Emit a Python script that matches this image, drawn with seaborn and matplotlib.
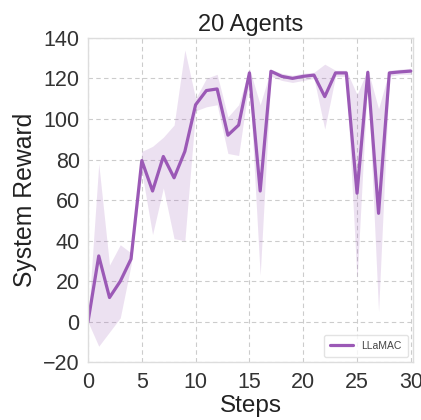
import matplotlib
matplotlib.use("Agg")
import matplotlib.pyplot as plt
import seaborn as sns
import pandas as pd

steps = list(range(31))
reward = [0, 32.5, 12, 20, 31, 79.5, 64.5, 81.5, 71, 84, 107, 114, 114.8, 92, 97,
          122.7, 64.5, 123.5, 121, 120, 121, 121.6, 111, 122.7, 122.7, 63.4, 123,
          53.5, 122.7, 123.2, 123.6]
lower = [0, -12, -5, 2, 28, 74, 43, 66, 41, 40, 104, 106, 107, 83, 82,
         119, 23, 121, 119, 118, 119, 120, 95, 121, 121, 21, 121,
         5, 121, 122, 122]
upper = [0, 78, 28, 38, 34, 84, 86.5, 91, 97, 134, 110, 120, 122, 101, 107,
         125, 107, 124.5, 122.5, 121.5, 122.5, 123, 127, 124, 124, 112, 124.5,
         105, 124, 124.5, 125]
series = "LLaMAC"

df = pd.DataFrame({"Steps": steps, "System Reward": reward, "Method": series})

sns.set_theme(style="whitegrid")
plt.rcParams['font.family'] = ['Liberation Sans', 'DejaVu Sans']

color = "#9B59B6"
fig = plt.figure(figsize=(4.21, 4.20), dpi=100)
ax = fig.add_axes([0.209, 0.137, 0.772, 0.773])

ax.fill_between(steps, lower, upper, color=color, alpha=0.18, linewidth=0)
sns.lineplot(data=df, x="Steps", y="System Reward", hue="Method",
             palette=[color], linewidth=2.3, ax=ax)

ax.set_xlim(0, 30.2)
ax.set_ylim(-20, 140)
ax.set_xticks([0, 5, 10, 15, 20, 25, 30])
ax.set_yticks(list(range(-20, 141, 20)))
ax.tick_params(axis="both", labelsize=15.5, colors="#333333", length=0)
ax.tick_params(axis="y", pad=6)
ax.tick_params(axis="x", pad=7)
ax.set_xlabel("Steps", fontsize=17.5, color="#222222", labelpad=1)
ax.set_ylabel("System Reward", fontsize=17.8, color="#222222", labelpad=4)
ax.set_title("20 Agents", fontsize=17, color="#222222", pad=5)

ax.grid(True, linestyle=(0, (4, 3)), color="#cccccc", linewidth=0.8)
for s in ax.spines.values():
    s.set_color("#dddddd")
    s.set_linewidth(1.0)

leg = ax.legend(loc="lower right", fontsize=7.5, frameon=True, title=None,
                handlelength=2.2, borderpad=0.6)
leg.get_frame().set_edgecolor("#dddddd")
for t in leg.get_texts():
    t.set_color("#444444")

fig.savefig("out.png", dpi=100)
